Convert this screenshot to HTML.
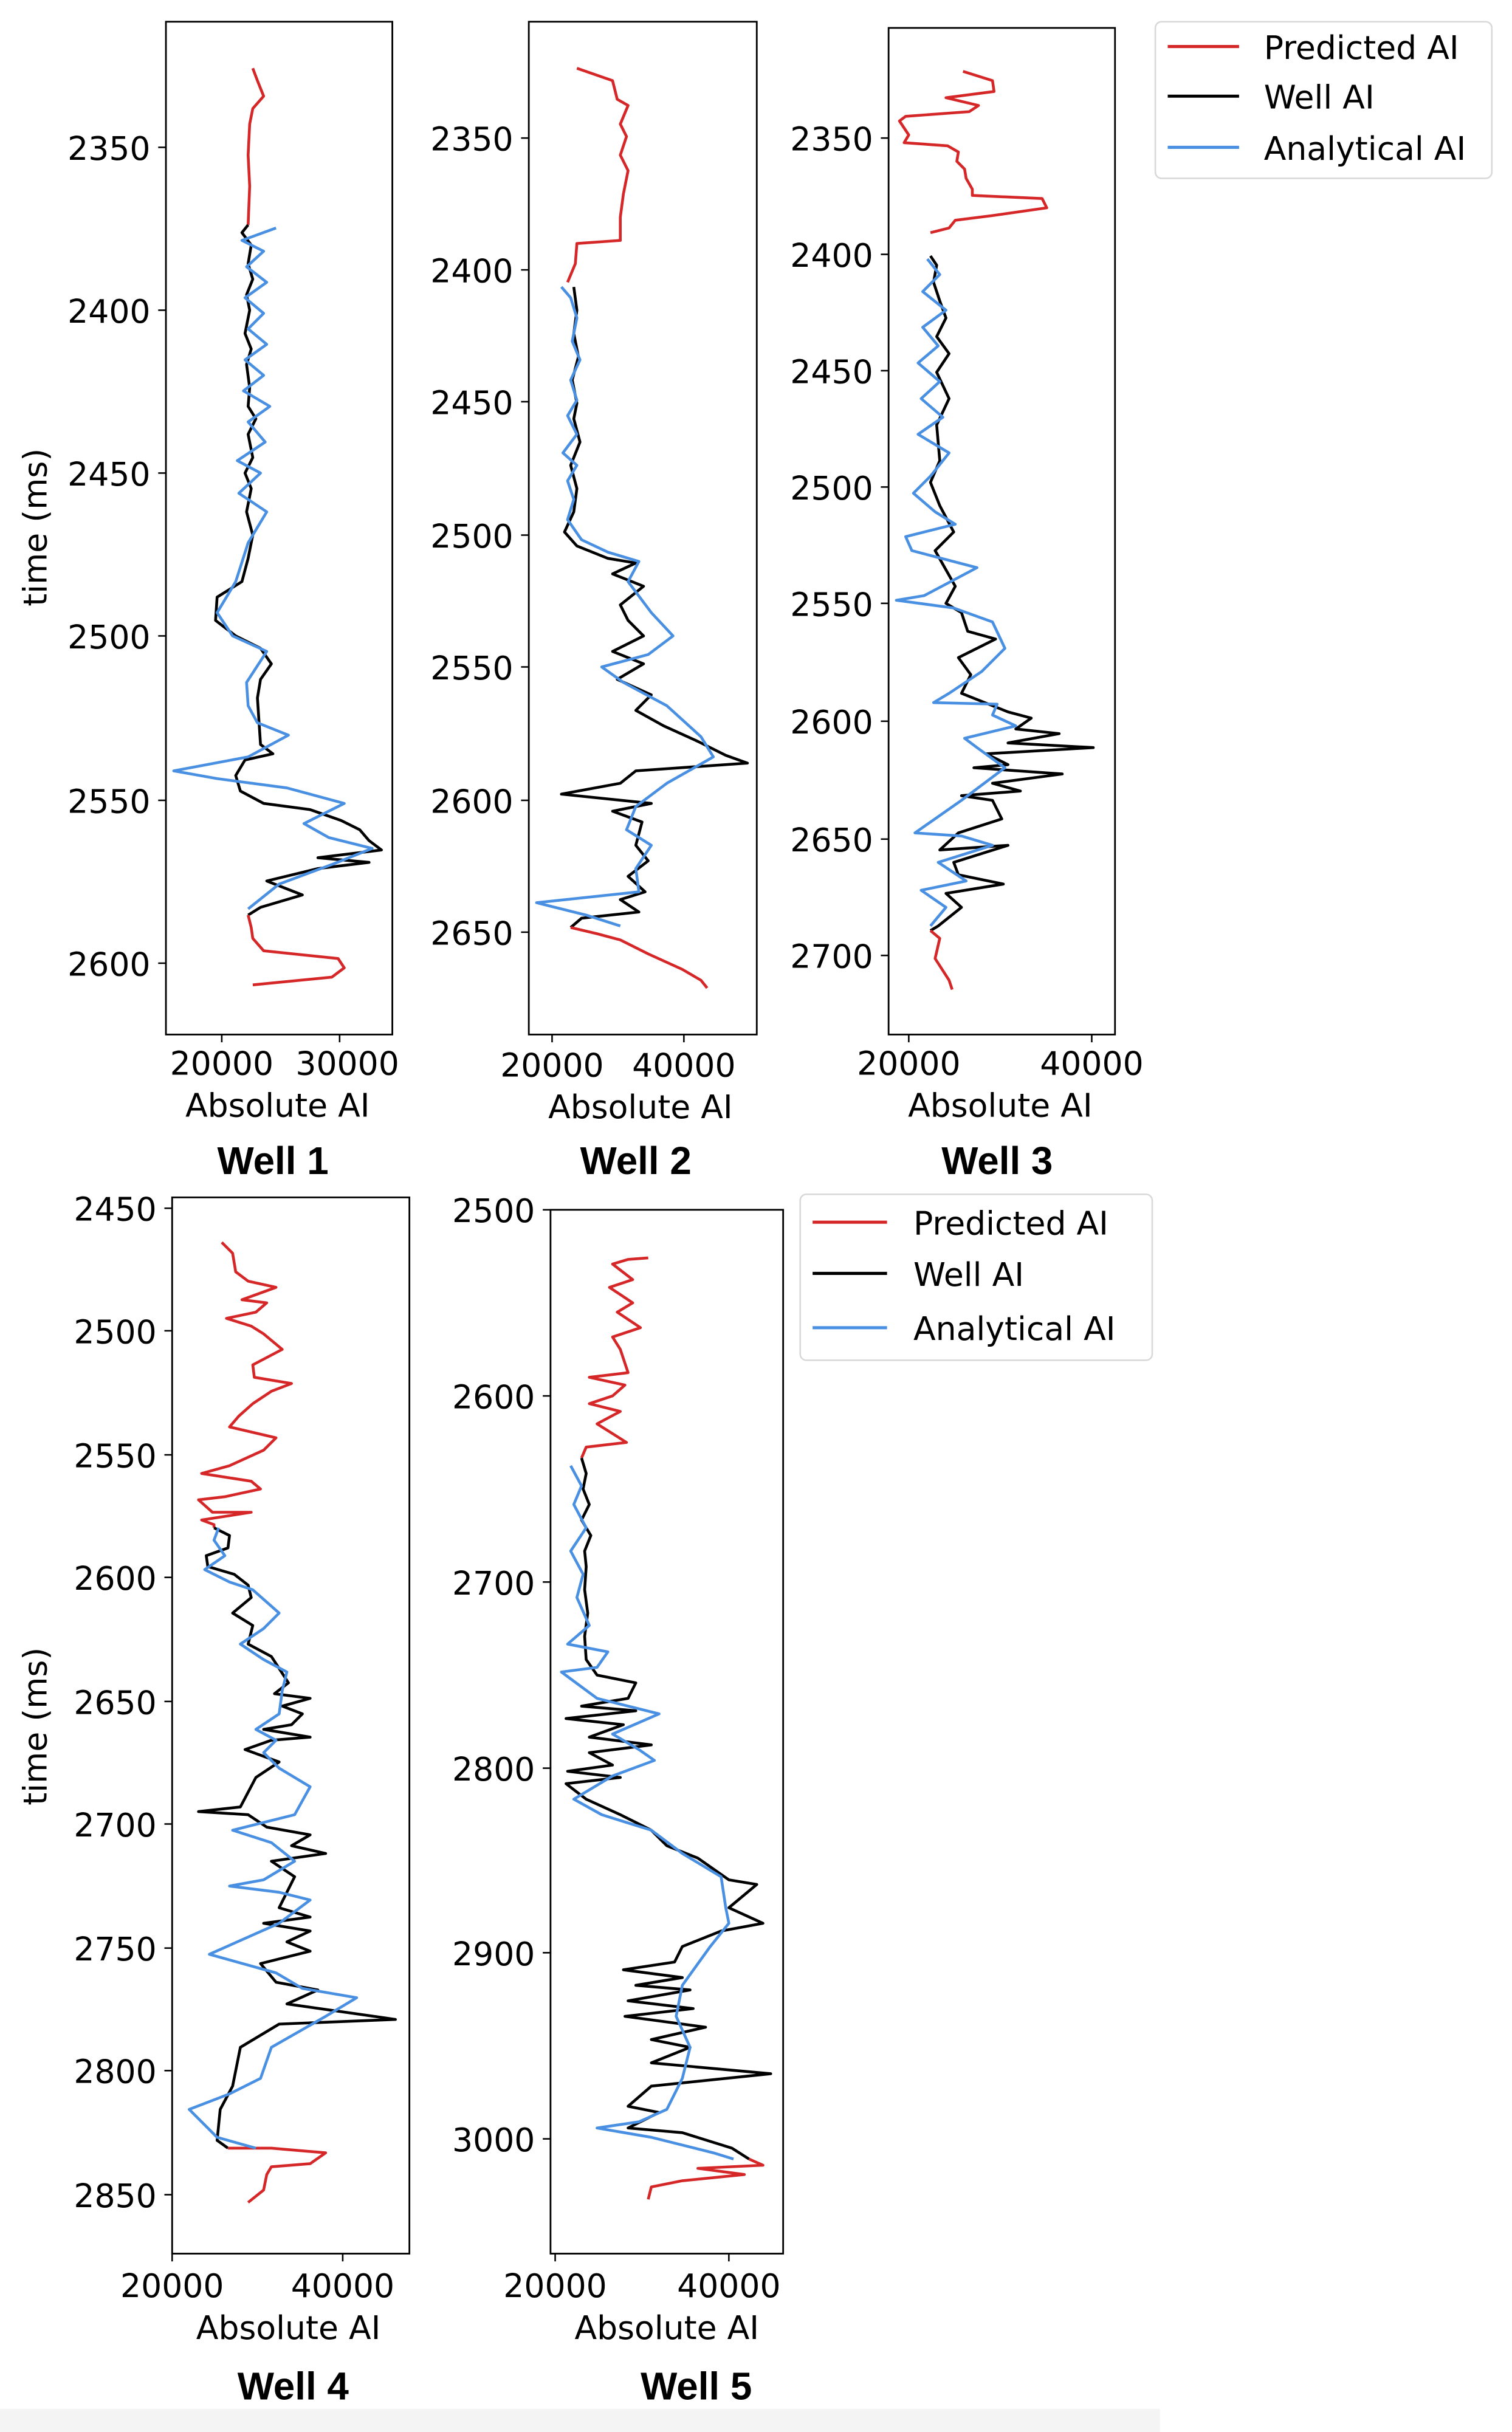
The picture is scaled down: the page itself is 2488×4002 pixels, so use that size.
<!DOCTYPE html>
<html><head><meta charset="utf-8"><style>
html,body{margin:0;padding:0;background:#fff;}
svg{display:block;}
text{font-family:"DejaVu Sans","Liberation Sans",sans-serif;fill:#000;}
.t{font-size:21px;}
.ti{font-family:"Liberation Sans",sans-serif;font-weight:bold;font-size:25px;}
.ax{fill:none;stroke:#000;stroke-width:1.1;}
.r{fill:none;stroke:#d62728;stroke-width:1.8;stroke-linejoin:round;}
.k{fill:none;stroke:#000;stroke-width:1.8;stroke-linejoin:round;}
.b{fill:none;stroke:#4a90e2;stroke-width:1.8;stroke-linejoin:round;}
</style></head><body>
<svg width="2488" height="4002" viewBox="0 0 975 1568" preserveAspectRatio="none" xmlns="http://www.w3.org/2000/svg">
<rect x="0" y="1553" width="748" height="15" fill="#f4f4f4"/>

<!-- Well 1 -->
<rect class="ax" x="107" y="14" width="146" height="653"/>
<g class="t" text-anchor="end">
<text x="97" y="103">2350</text><text x="97" y="208">2400</text><text x="97" y="313">2450</text>
<text x="97" y="418">2500</text><text x="97" y="524">2550</text><text x="97" y="629">2600</text></g>
<g stroke="#000"><line x1="102" x2="107" y1="95" y2="95"/><line x1="102" x2="107" y1="200" y2="200"/><line x1="102" x2="107" y1="305" y2="305"/><line x1="102" x2="107" y1="410" y2="410"/><line x1="102" x2="107" y1="516" y2="516"/><line x1="102" x2="107" y1="621" y2="621"/>
<line x1="143" x2="143" y1="667" y2="672"/><line x1="219" x2="219" y1="667" y2="672"/></g>
<text class="t" x="143" y="693" text-anchor="middle">20000</text><text class="t" x="224" y="693" text-anchor="middle">30000</text>
<text class="t" x="179" y="720" text-anchor="middle">Absolute AI</text>
<text class="ti" x="176" y="757" text-anchor="middle">Well 1</text>
<text class="t" transform="translate(30,340) rotate(-90)" text-anchor="middle">time (ms)</text>
<polyline class="r" points="163,44 166,52 170,62 163,70 161,80 160,100 161,120 160,145"/>
<polyline class="k" points="160,145 156,150 162,158 160,170 163,180 159,190 161,200 158,215 162,225 159,235 161,250 160,262 165,270 160,280 163,295 158,305 162,315 159,330 163,345 160,360 156,375 140,385 139,400 152,410 168,418 175,428 168,438 166,450 167,465 168,480 176,486 158,490 152,500 155,510 170,518 200,522 220,529 232,535 238,542 246,548 205,553 238,556 205,560 172,568 195,577 168,585 160,590"/>
<polyline class="r" points="160,590 162,598 163,605 170,613 218,618 222,624 214,630 163,635"/>
<polyline class="b" points="178,147 156,155 170,162 159,172 172,182 158,192 170,202 160,212 172,222 158,232 170,242 157,252 174,262 160,272 171,285 153,297 168,305 154,318 172,330 160,350 152,375 140,395 150,410 172,420 159,440 160,455 166,466 186,474 160,488 112,497 140,502 185,508 222,518 196,531 212,540 240,547 215,557 180,570 160,586"/>

<!-- Well 2 -->
<rect class="ax" x="341" y="14" width="147" height="653"/>
<g class="t" text-anchor="end">
<text x="331" y="97">2350</text><text x="331" y="182">2400</text><text x="331" y="267">2450</text><text x="331" y="353">2500</text><text x="331" y="438">2550</text><text x="331" y="524">2600</text><text x="331" y="609">2650</text></g>
<g stroke="#000"><line x1="336" x2="341" y1="89" y2="89"/><line x1="336" x2="341" y1="174" y2="174"/><line x1="336" x2="341" y1="259" y2="259"/><line x1="336" x2="341" y1="345" y2="345"/><line x1="336" x2="341" y1="430" y2="430"/><line x1="336" x2="341" y1="516" y2="516"/><line x1="336" x2="341" y1="601" y2="601"/>
<line x1="356" x2="356" y1="667" y2="672"/><line x1="441" x2="441" y1="667" y2="672"/></g>
<text class="t" x="356" y="694" text-anchor="middle">20000</text><text class="t" x="441" y="694" text-anchor="middle">40000</text>
<text class="t" x="413" y="721" text-anchor="middle">Absolute AI</text>
<text class="ti" x="410" y="757" text-anchor="middle">Well 2</text>
<polyline class="r" points="372,44 395,52 398,64 405,68 400,80 404,88 400,100 405,110 402,125 400,140 400,155 372,157 371,170 366,182"/>
<polyline class="k" points="370,185 372,200 370,215 373,230 369,245 372,260 370,270 374,285 368,300 372,315 370,330 364,343 372,352 392,360 410,363 395,370 415,378 400,390 405,400 415,410 395,420 415,428 398,438 420,448 410,458 428,468 450,478 468,487 482,492 410,497 400,505 362,512 420,518 395,523 414,530 410,545 418,555 405,565 416,575 400,580 412,588 375,592 368,598"/>
<polyline class="r" points="368,598 385,602 400,606 418,615 440,625 452,632 456,637"/>
<polyline class="b" points="362,185 368,192 372,205 369,220 374,232 368,245 372,258 366,268 372,280 363,292 372,300 366,310 370,322 366,335 375,348 392,356 412,362 405,375 420,395 434,410 418,422 388,430 402,440 430,455 452,475 460,488 430,505 410,520 404,535 420,545 410,560 412,575 346,582 378,590 400,597"/>

<!-- Well 3 -->
<rect class="ax" x="573" y="18" width="146" height="649"/>
<g class="t" text-anchor="end">
<text x="563" y="97">2350</text><text x="563" y="172">2400</text><text x="563" y="247">2450</text><text x="563" y="322">2500</text><text x="563" y="397">2550</text><text x="563" y="473">2600</text><text x="563" y="549">2650</text><text x="563" y="624">2700</text></g>
<g stroke="#000"><line x1="568" x2="573" y1="89" y2="89"/><line x1="568" x2="573" y1="164" y2="164"/><line x1="568" x2="573" y1="239" y2="239"/><line x1="568" x2="573" y1="314" y2="314"/><line x1="568" x2="573" y1="389" y2="389"/><line x1="568" x2="573" y1="465" y2="465"/><line x1="568" x2="573" y1="541" y2="541"/><line x1="568" x2="573" y1="616" y2="616"/>
<line x1="586" x2="586" y1="667" y2="672"/><line x1="704" x2="704" y1="667" y2="672"/></g>
<text class="t" x="586" y="693" text-anchor="middle">20000</text><text class="t" x="704" y="693" text-anchor="middle">40000</text>
<text class="t" x="645" y="720" text-anchor="middle">Absolute AI</text>
<text class="ti" x="643" y="757" text-anchor="middle">Well 3</text>
<polyline class="r" points="621,46 640,52 641,59 610,63 631,68 625,72 584,75 580,78 586,87 583,92 611,94 618,98 617,104 622,109 623,115 627,122 627,126 672,128 675,134 640,139 616,142 612,147 600,150"/>
<polyline class="k" points="600,165 604,171 602,182 606,194 610,205 604,217 612,228 604,240 612,257 604,274 606,297 600,311 606,326 615,343 603,355 616,378 610,389 620,395 624,407 642,412 618,424 626,435 620,447 650,459 665,463 655,470 683,473 650,479 705,482 636,486 650,493 628,495 685,499 640,505 658,510 620,513 640,516 646,528 618,537 606,548 650,545 615,556 618,564 647,570 610,576 620,585 605,597 600,600"/>
<polyline class="r" points="600,600 606,605 603,618 612,632 614,638"/>
<polyline class="b" points="598,167 606,177 595,188 610,200 595,211 605,223 592,234 606,246 594,257 608,269 592,280 612,292 600,307 589,318 603,330 616,338 584,346 588,355 630,366 596,384 578,387 615,392 640,401 648,418 633,433 612,447 602,453 643,454 640,461 655,468 622,476 630,482 648,495 620,516 590,537 620,539 640,545 605,556 623,568 594,574 610,585 600,597"/>

<!-- Legend 1 -->
<rect x="745" y="14" width="217" height="101" rx="4" fill="#fff" stroke="#d8d8d8" stroke-width="1"/>
<line x1="753" x2="799" y1="30" y2="30" stroke="#d62728" stroke-width="2"/>
<line x1="753" x2="799" y1="62" y2="62" stroke="#000" stroke-width="2"/>
<line x1="753" x2="799" y1="95" y2="95" stroke="#4a90e2" stroke-width="2"/>
<text class="t" x="815" y="38">Predicted AI</text><text class="t" x="815" y="70">Well AI</text><text class="t" x="815" y="103">Analytical AI</text>

<!-- Well 4 -->
<rect class="ax" x="111" y="772" width="153" height="681"/>
<g class="t" text-anchor="end">
<text x="101" y="787">2450</text><text x="101" y="866">2500</text><text x="101" y="946">2550</text><text x="101" y="1025">2600</text><text x="101" y="1105">2650</text><text x="101" y="1184">2700</text><text x="101" y="1264">2750</text><text x="101" y="1343">2800</text><text x="101" y="1423">2850</text></g>
<g stroke="#000"><line x1="106" x2="111" y1="779" y2="779"/><line x1="106" x2="111" y1="858" y2="858"/><line x1="106" x2="111" y1="938" y2="938"/><line x1="106" x2="111" y1="1017" y2="1017"/><line x1="106" x2="111" y1="1097" y2="1097"/><line x1="106" x2="111" y1="1176" y2="1176"/><line x1="106" x2="111" y1="1256" y2="1256"/><line x1="106" x2="111" y1="1335" y2="1335"/><line x1="106" x2="111" y1="1415" y2="1415"/>
<line x1="111" x2="111" y1="1453" y2="1458"/><line x1="221" x2="221" y1="1453" y2="1458"/></g>
<text class="t" x="111" y="1481" text-anchor="middle">20000</text><text class="t" x="221" y="1481" text-anchor="middle">40000</text>
<text class="t" x="186" y="1508" text-anchor="middle">Absolute AI</text>
<text class="ti" x="189" y="1547" text-anchor="middle">Well 4</text>
<text class="t" transform="translate(30,1113) rotate(-90)" text-anchor="middle">time (ms)</text>
<polyline class="r" points="143,801 150,808 152,820 160,826 178,830 156,838 172,840 165,846 146,850 162,855 170,860 182,870 163,880 164,888 188,892 175,897 163,905 154,913 148,920 178,927 170,935 148,945 130,950 162,955 168,960 145,965 128,967 137,975 162,975 130,980 138,983 138,985"/>
<polyline class="k" points="138,985 148,990 147,998 133,1003 134,1010 151,1015 160,1022 162,1030 150,1040 163,1048 160,1060 175,1068 186,1085 177,1092 200,1095 182,1100 195,1105 188,1112 170,1115 200,1120 175,1122 158,1128 180,1136 165,1146 155,1165 128,1168 160,1170 172,1178 200,1183 188,1190 210,1195 175,1200 190,1210 180,1230 200,1236 170,1240 200,1245 185,1252 200,1258 168,1266 178,1278 205,1283 185,1292 255,1302 180,1305 155,1320 150,1345 142,1360 140,1380 147,1385"/>
<polyline class="r" points="147,1385 175,1385 210,1388 200,1395 175,1397 172,1402 170,1412 160,1420"/>
<polyline class="b" points="141,985 138,993 145,1003 132,1012 148,1020 163,1025 180,1040 170,1050 155,1060 170,1070 185,1078 182,1090 180,1105 165,1115 178,1122 170,1130 180,1140 200,1152 190,1170 150,1180 175,1188 190,1200 170,1212 148,1216 180,1220 200,1225 180,1240 135,1260 178,1272 195,1282 230,1288 210,1300 175,1320 168,1340 148,1350 122,1360 140,1378 165,1385"/>

<!-- Well 5 -->
<rect class="ax" x="355" y="780" width="150" height="673"/>
<g class="t" text-anchor="end">
<text x="345" y="788">2500</text><text x="345" y="908">2600</text><text x="345" y="1028">2700</text><text x="345" y="1148">2800</text><text x="345" y="1267">2900</text><text x="345" y="1387">3000</text></g>
<g stroke="#000"><line x1="350" x2="355" y1="780" y2="780"/><line x1="350" x2="355" y1="900" y2="900"/><line x1="350" x2="355" y1="1020" y2="1020"/><line x1="350" x2="355" y1="1140" y2="1140"/><line x1="350" x2="355" y1="1259" y2="1259"/><line x1="350" x2="355" y1="1379" y2="1379"/>
<line x1="358" x2="358" y1="1453" y2="1458"/><line x1="470" x2="470" y1="1453" y2="1458"/></g>
<text class="t" x="358" y="1481" text-anchor="middle">20000</text><text class="t" x="470" y="1481" text-anchor="middle">40000</text>
<text class="t" x="430" y="1508" text-anchor="middle">Absolute AI</text>
<text class="ti" x="449" y="1547" text-anchor="middle">Well 5</text>
<polyline class="r" points="418,811 405,812 395,815 408,825 393,830 408,840 398,846 413,856 395,862 400,870 405,885 380,888 403,893 395,900 380,905 400,910 385,918 404,930 378,933 375,940"/>
<polyline class="k" points="375,940 378,950 376,960 380,970 375,980 381,990 377,1000 378,1010 377,1025 379,1040 377,1055 378,1070 385,1080 410,1085 405,1095 375,1100 410,1103 365,1108 402,1112 380,1120 420,1125 380,1130 395,1138 366,1142 400,1146 365,1150 378,1160 400,1170 420,1180 430,1190 450,1198 470,1212 488,1215 470,1230 492,1240 465,1245 440,1255 435,1265 402,1270 440,1275 410,1280 445,1283 405,1290 447,1295 403,1300 455,1307 420,1315 445,1320 420,1330 497,1337 420,1345 405,1358 425,1362 405,1372 440,1375 472,1385 483,1392"/>
<polyline class="r" points="483,1392 492,1396 450,1398 480,1402 440,1406 420,1410 418,1418"/>
<polyline class="b" points="368,945 375,958 370,970 378,985 368,1000 376,1015 372,1030 380,1048 366,1060 392,1065 385,1075 362,1078 385,1095 425,1105 395,1118 412,1128 422,1135 395,1145 370,1160 388,1170 420,1180 440,1195 465,1210 468,1230 470,1240 458,1255 440,1280 436,1300 445,1320 440,1340 430,1360 412,1368 385,1372 420,1378 460,1388 473,1392"/>

<!-- Legend 2 -->
<rect x="516" y="770" width="227" height="107" rx="4" fill="#fff" stroke="#d8d8d8" stroke-width="1"/>
<line x1="524" x2="572" y1="788" y2="788" stroke="#d62728" stroke-width="2"/>
<line x1="524" x2="572" y1="821" y2="821" stroke="#000" stroke-width="2"/>
<line x1="524" x2="572" y1="856" y2="856" stroke="#4a90e2" stroke-width="2"/>
<text class="t" x="589" y="796">Predicted AI</text><text class="t" x="589" y="829">Well AI</text><text class="t" x="589" y="864">Analytical AI</text>
</svg>
</body></html>
